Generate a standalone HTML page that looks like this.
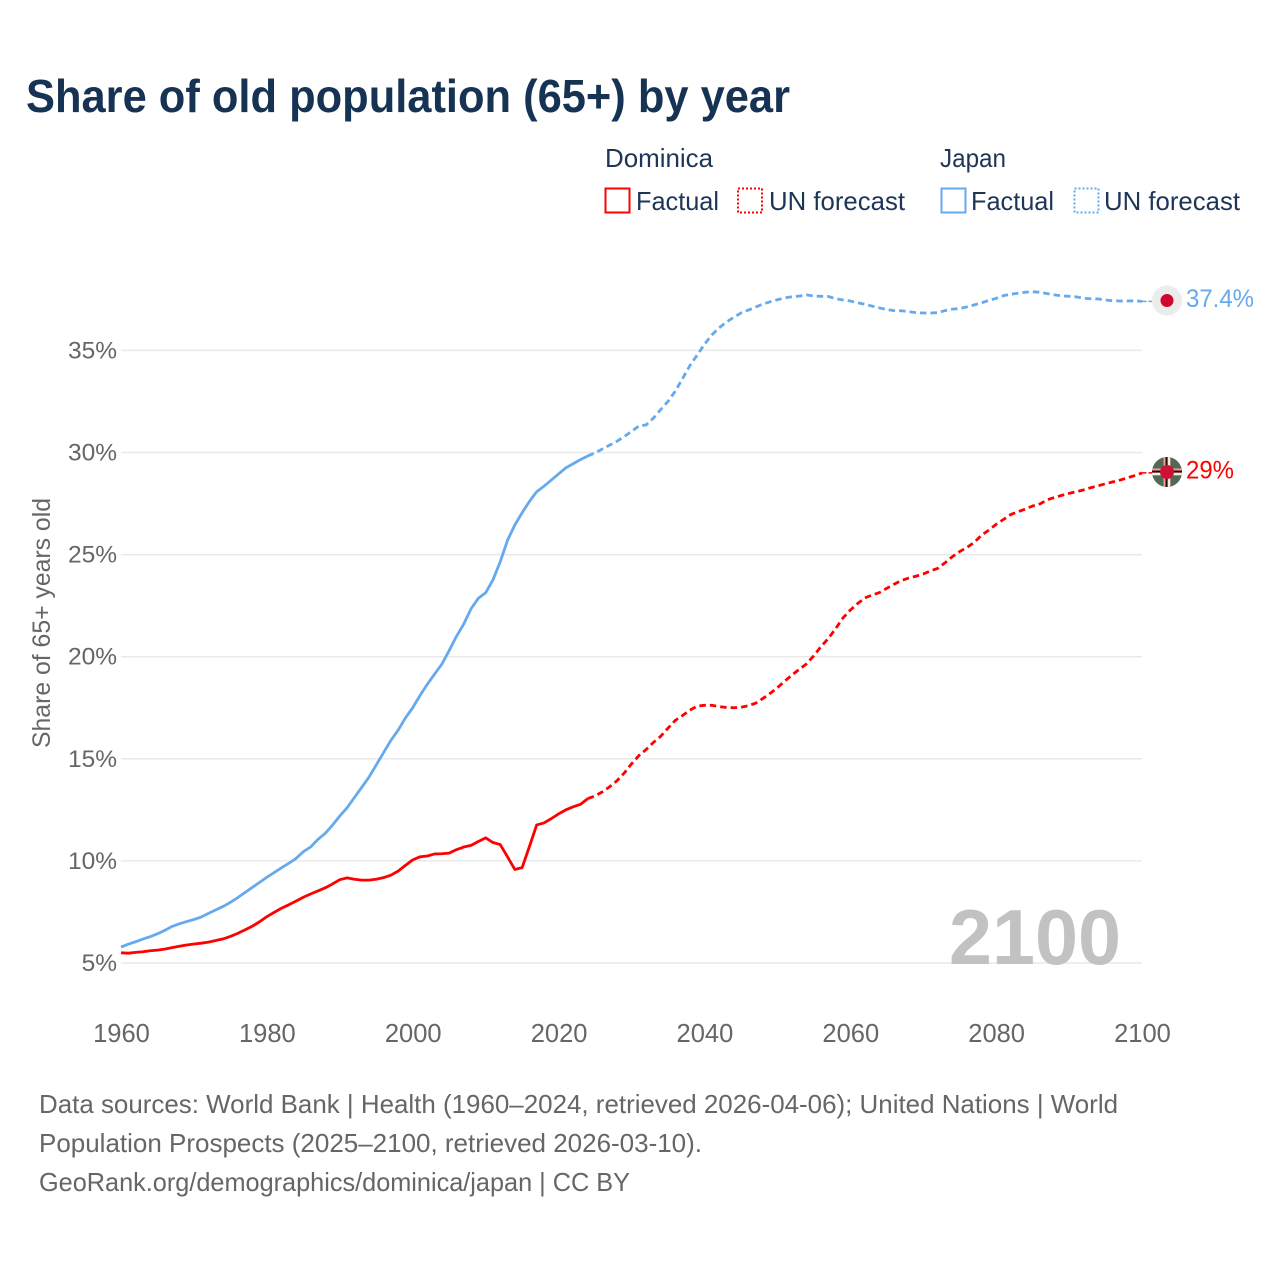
<!DOCTYPE html>
<html lang="en">
<head>
<meta charset="utf-8">
<title>Share of old population (65+) by year</title>
<style>
html,body{margin:0;padding:0;background:#fff;}
svg{display:block;}
text{font-family:"Liberation Sans",sans-serif;}
</style>
</head>
<body>
<svg id="chart" width="1280" height="1280" viewBox="0 0 1280 1280" xmlns="http://www.w3.org/2000/svg">
  <rect x="0" y="0" width="1280" height="1280" fill="#fff"/>
  <text x="26" y="112" font-size="46" font-weight="700" fill="#163354" textLength="764" lengthAdjust="spacingAndGlyphs">Share of old population (65+) by year</text>

  <g font-size="26" fill="#1d3557">
    <text x="605" y="167" textLength="108" lengthAdjust="spacingAndGlyphs">Dominica</text>
    <text x="940" y="167" textLength="66" lengthAdjust="spacingAndGlyphs">Japan</text>
    <rect x="605.5" y="188.5" width="24" height="24" fill="none" stroke="#ff0000" stroke-width="2"/>
    <text x="636" y="210" textLength="83" lengthAdjust="spacingAndGlyphs">Factual</text>
    <rect x="738" y="188.5" width="24" height="24" fill="none" stroke="#ff0000" stroke-width="2" stroke-dasharray="2,2"/>
    <text x="769" y="210" textLength="136" lengthAdjust="spacingAndGlyphs">UN forecast</text>
    <rect x="941.5" y="188.5" width="24" height="24" fill="none" stroke="#66a9ec" stroke-width="2"/>
    <text x="971" y="210" textLength="83" lengthAdjust="spacingAndGlyphs">Factual</text>
    <rect x="1074.5" y="188.5" width="24" height="24" fill="none" stroke="#66a9ec" stroke-width="2" stroke-dasharray="2,2"/>
    <text x="1104" y="210" textLength="136" lengthAdjust="spacingAndGlyphs">UN forecast</text>
  </g>

  <g id="grid"></g>
  <g id="yticks" font-size="24.5" fill="#666" text-anchor="end"></g>
  <g id="xticks" font-size="25.5" fill="#666" text-anchor="middle"></g>
  <text transform="translate(50,748) rotate(-90)" font-size="25" fill="#666" textLength="250" lengthAdjust="spacingAndGlyphs">Share of 65+ years old</text>

  <text x="1121" y="964" text-anchor="end" font-size="78" font-weight="700" fill="#c2c2c2" textLength="172" lengthAdjust="spacingAndGlyphs">2100</text>

  <g id="series"></g>

  <g>
    <circle cx="1167" cy="300.5" r="15" fill="#ececec"/>
    <circle cx="1167" cy="300.5" r="6.5" fill="#d0062f"/>
  </g>
  <g>
    <clipPath id="dm-clip"><circle cx="1167" cy="472" r="15"/></clipPath>
    <g clip-path="url(#dm-clip)">
      <rect x="1152" y="457" width="30" height="30" fill="#4f6a55"/>
      <rect x="1152" y="468.5" width="30" height="7" fill="#ff9a8a"/>
      <rect x="1163.5" y="457" width="7" height="30" fill="#ff9a8a"/>
      <rect x="1152" y="470.5" width="30" height="2" fill="#111"/>
      <rect x="1165.5" y="457" width="2" height="30" fill="#111"/>
      <rect x="1152" y="473" width="30" height="2" fill="#eee"/>
      <rect x="1168" y="457" width="2" height="30" fill="#eee"/>
    </g>
    <circle cx="1167" cy="472" r="7" fill="#cf1136"/>
  </g>

  <text id="label-japan" x="1186" y="307" font-size="25" fill="#66a9ec" textLength="68" lengthAdjust="spacingAndGlyphs"></text>
  <text id="label-dominica" x="1186" y="478.5" font-size="25" fill="#ff0000" textLength="48" lengthAdjust="spacingAndGlyphs"></text>

  <g font-size="26" fill="#666">
    <text x="39" y="1113" textLength="1079" lengthAdjust="spacingAndGlyphs">Data sources: World Bank | Health (1960–2024, retrieved 2026-04-06); United Nations | World</text>
    <text x="39" y="1152" textLength="663" lengthAdjust="spacingAndGlyphs">Population Prospects (2025–2100, retrieved 2026-03-10).</text>
    <text x="39" y="1191" textLength="591" lengthAdjust="spacingAndGlyphs">GeoRank.org/demographics/dominica/japan | CC BY</text>
  </g>
</svg>
<script>
var yTickValues = [5, 10, 15, 20, 25, 30, 35];
var xTickYears = [1960, 1980, 2000, 2020, 2040, 2060, 2080, 2100];
var factualStartYear = 1960;
var forecastStartYear = 2024;
var japanFactual = [5.78,5.92,6.04,6.17,6.29,6.43,6.6,6.79,6.92,7.03,7.13,7.25,7.43,7.6,7.77,7.97,8.2,8.45,8.7,8.95,9.2,9.43,9.66,9.88,10.12,10.45,10.68,11.05,11.35,11.75,12.2,12.6,13.1,13.6,14.1,14.7,15.3,15.9,16.4,17.0,17.5,18.1,18.65,19.15,19.64,20.3,21.0,21.6,22.35,22.86,23.13,23.76,24.65,25.7,26.45,27.05,27.6,28.08,28.35,28.65,28.95,29.25,29.45,29.65,29.83];
var japanForecast = [29.83,29.98,30.17,30.36,30.55,30.78,31.03,31.3,31.35,31.68,32.1,32.5,33.0,33.62,34.25,34.77,35.3,35.75,36.1,36.38,36.62,36.83,36.97,37.12,37.27,37.38,37.48,37.57,37.63,37.66,37.72,37.66,37.65,37.64,37.53,37.47,37.42,37.33,37.26,37.17,37.08,37.0,36.95,36.94,36.9,36.85,36.83,36.83,36.85,36.95,37.02,37.05,37.13,37.23,37.33,37.45,37.55,37.68,37.75,37.8,37.85,37.87,37.85,37.78,37.72,37.67,37.65,37.62,37.55,37.53,37.52,37.47,37.43,37.42,37.42,37.43,37.4];
var dominicaFactual = [5.5,5.48,5.52,5.55,5.6,5.63,5.68,5.75,5.82,5.88,5.93,5.97,6.02,6.1,6.18,6.3,6.45,6.62,6.8,7.02,7.27,7.48,7.68,7.85,8.03,8.22,8.38,8.53,8.68,8.87,9.08,9.17,9.1,9.06,9.06,9.1,9.18,9.3,9.5,9.78,10.05,10.2,10.24,10.34,10.35,10.38,10.55,10.68,10.76,10.95,11.13,10.9,10.8,10.2,9.58,9.67,10.7,11.76,11.86,12.07,12.3,12.5,12.65,12.77,13.05];
var dominicaForecast = [13.05,13.18,13.38,13.63,13.92,14.3,14.75,15.15,15.45,15.8,16.1,16.5,16.88,17.12,17.38,17.58,17.62,17.62,17.55,17.52,17.5,17.52,17.6,17.72,17.95,18.2,18.48,18.8,19.1,19.38,19.65,20.05,20.5,20.9,21.38,21.9,22.28,22.6,22.88,23.02,23.14,23.35,23.55,23.73,23.85,23.94,24.05,24.2,24.33,24.6,24.9,25.15,25.35,25.6,25.95,26.2,26.48,26.72,26.96,27.1,27.23,27.38,27.48,27.68,27.8,27.9,28.0,28.08,28.17,28.28,28.37,28.47,28.56,28.65,28.76,28.87,29.0];
var japanEndLabel = "37.4%";
var dominicaEndLabel = "29%";

var NS = 'http://www.w3.org/2000/svg';
var plotLeft = 121, plotRight = 1142, plotBase = 963, pxPerPct = 20.42;
function xScale(year) { return plotLeft + (year - 1960) * (plotRight - plotLeft) / 140; }
function yScale(v) { return plotBase - (v - 5) * pxPerPct; }
function make(tag, attrs, parent) {
  var el = document.createElementNS(NS, tag);
  for (var k in attrs) el.setAttribute(k, attrs[k]);
  parent.appendChild(el);
  return el;
}
var gridGroup = document.getElementById('grid');
var yGroup = document.getElementById('yticks');
var xGroup = document.getElementById('xticks');
var seriesGroup = document.getElementById('series');

yTickValues.forEach(function (v) {
  var line = make('line', {x1: plotLeft, x2: plotRight, y1: yScale(v), y2: yScale(v), stroke: '#e9e9e9', 'stroke-width': 1.5}, gridGroup);
  
  
  var t = make('text', {x: 117, y: yScale(v) + 8}, yGroup);
  t.textContent = v + '%';
  
  
});
xTickYears.forEach(function (yr) {
  var t = make('text', {x: xScale(yr) + 0.5, y: 1042}, xGroup);
  t.textContent = String(yr);
  
  
});
function pathFrom(values, startYear) {
  return values.map(function (v, i) {
    return (i ? 'L' : 'M') + xScale(startYear + i).toFixed(2) + ' ' + yScale(v).toFixed(2);
  }).join(' ');
}
function drawLine(values, startYear, color, dash) {
  var p = make('path', {d: pathFrom(values, startYear), fill: 'none', stroke: color, 'stroke-width': 2.8, 'stroke-linejoin': 'round'}, seriesGroup);
  if (dash) p.setAttribute('stroke-dasharray', '6.5,4');
  return p;
}
function drawConnector(values, color) {
  var last = values[values.length - 1];
  var c = make('line', {x1: plotRight, x2: 1152, y1: yScale(last), y2: yScale(last), stroke: color, 'stroke-width': 1.5, 'stroke-dasharray': '4.5,2'}, seriesGroup);
  return c;
}
var blue = '#66a9ec', red = '#ff0000';
var l1 = drawLine(japanForecast, forecastStartYear, blue, true);


var l2 = drawLine(japanFactual, factualStartYear, blue, false);


var l3 = drawLine(dominicaForecast, forecastStartYear, red, true);


var l4 = drawLine(dominicaFactual, factualStartYear, red, false);


var c1 = drawConnector(japanForecast, blue);


var c2 = drawConnector(dominicaForecast, red);


document.getElementById('label-japan').textContent = japanEndLabel;
document.getElementById('label-dominica').textContent = dominicaEndLabel;
</script>
</body>
</html>
